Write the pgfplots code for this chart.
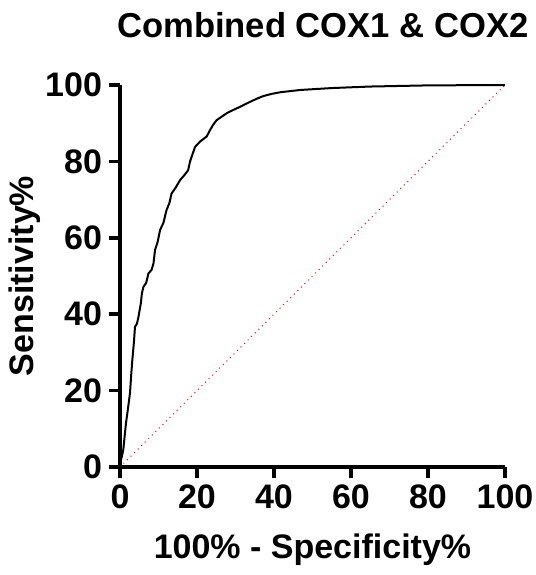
\documentclass[border=0pt]{standalone}
\usepackage{fontspec}
\setmainfont{Liberation Sans}
\usepackage{pgfplots}
\pgfplotsset{compat=1.18}

\begin{document}
\begin{tikzpicture}
\begin{axis}[
    scale only axis,
    width=192.5pt, height=191pt,
    xmin=0, xmax=100, ymin=0, ymax=100,
    axis x line*=bottom, axis y line*=left,
    axis line style={line width=1.8pt},
    xtick={0,20,...,100}, ytick={0,20,...,100},
    tick align=outside, tick style={line width=1.8pt, black},
    major tick length=5.5pt,
    minor tick num=0,
    /pgf/number format/assume math mode=true,
    tick label style={font=\fontsize{17}{20}\selectfont\bfseries},
    label style={font=\fontsize{17}{20}\selectfont\bfseries},
    xlabel={100\% - Specificity\%},
    ylabel={Sensitivity\%},
    xlabel style={at={(axis description cs:0.5,-0.217)}, anchor=center},
    ylabel style={at={(axis description cs:-0.247,0.5)}, anchor=center},
    clip=false,
]
\addplot[red, line width=0.5pt, dotted] coordinates {(0,0) (100,100)};
\addplot[black, line width=1pt] coordinates {
(0,0) (0.3,2.0) (0.86,4.5) (1.2,8.0) (1.56,11.5) (2.1,15.5) (2.6,19.4)
(2.9,24.0) (3.2,28.0) (3.6,32.5) (3.9,36.7) (4.4,37.5) (4.8,39.3)
(5.4,42.8) (5.7,45.5) (6.1,47.2) (6.8,48.2) (7.4,50.7) (8.2,51.6)
(8.7,53.3) (9.1,56.8) (9.8,59.0) (10.4,62.0) (11.3,64.0) (12.1,67.3)
(12.8,69.0) (13.4,71.6) (14.5,73.2) (15.6,75.1) (16.8,76.5) (17.7,77.7)
(18.2,80.0) (18.6,81.2) (19.5,83.8) (20.8,85.2) (22.5,86.5) (23.4,88.2)
(24.2,89.6) (25.1,90.8) (26.4,91.7) (27.7,92.6) (29.5,93.5) (31.2,94.3)
(33.8,95.6) (35.5,96.4) (37.2,97.1) (39.5,97.7) (41.6,98.1) (46.8,98.7)
(55,99.2) (65,99.6) (80,99.9) (100,100)
};
\node[font=\fontsize{17.3}{20}\selectfont\bfseries] at (rel axis cs:0.527,1.157) {Combined COX1 \& COX2};
\coordinate (O) at (axis cs:0,0);
\end{axis}
\pgfresetboundingbox
\path (O) ++(-60pt,-54pt) rectangle ++(268pt,287.5pt);
\end{tikzpicture}
\end{document}
